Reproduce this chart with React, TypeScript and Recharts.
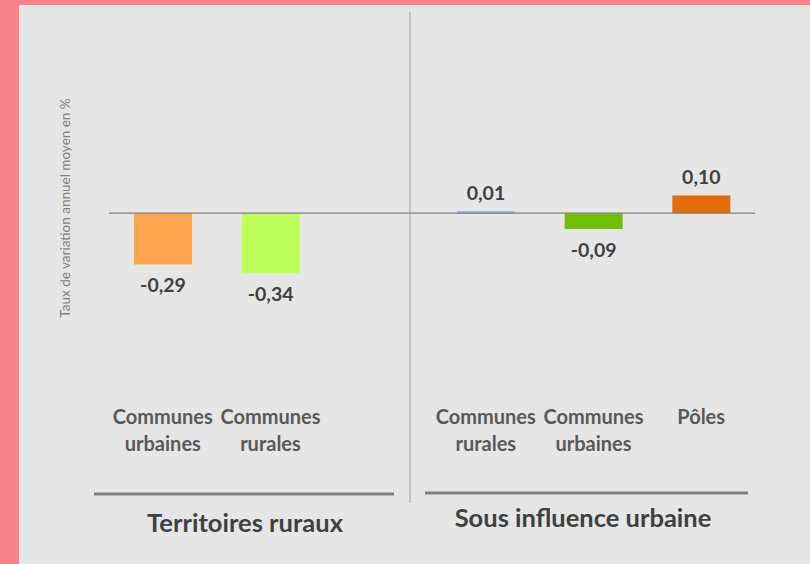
import React from "react";
import { BarChart, Bar, XAxis, YAxis, Cell, LabelList, ReferenceLine, Customized } from "recharts";

const categories = [
  ["Communes", "urbaines"],
  ["Communes", "rurales"],
  ["", ""],
  ["Communes", "rurales"],
  ["Communes", "urbaines"],
  ["Pôles", ""],
];
const values: (number | null)[] = [-0.29, -0.34, null, 0.01, -0.09, 0.1];
const barColors = ["#fda54f", "#bfff5a", "#ffffff", "#8eb4e3", "#70bf00", "#e46c0a"];
const groupLabels = ["Territoires ruraux", "Sous influence urbaine"];
const yAxisLabel = "Taux de variation annuel moyen en %";

const data = categories.map((c, i) => ({ id: i, l1: c[0], l2: c[1], value: values[i] }));

const FONT = "Lato, 'Open Sans', sans-serif";

const fmt = (v: number) => v.toFixed(2).replace(".", ",");

const CatTick = (props: any) => {
  const { x, y, payload } = props;
  const item = data.find((e) => e.id === payload.value);
  if (!item) return null;
  return (
    <g>
      <text x={x} y={y + 26} textAnchor="middle" dominantBaseline="central" fontFamily={FONT} fontWeight={700} fontSize={20} fill="#595959">
        {item.l1}
      </text>
      <text x={x} y={y + 53} textAnchor="middle" dominantBaseline="central" fontFamily={FONT} fontWeight={700} fontSize={20} fill="#595959">
        {item.l2}
      </text>
    </g>
  );
};

const ValueLabel = (props: any) => {
  const { x, y, width, height, value } = props;
  if (value === null || value === undefined) return null;
  const top = Math.min(y, y + height);
  const bottom = Math.max(y, y + height);
  const cy = value < 0 ? bottom + 20 : top - 19;
  return (
    <text x={x + width / 2} y={cy} textAnchor="middle" dominantBaseline="central" fontFamily={FONT} fontWeight={700} fontSize={19.5} fill="#404040">
      {fmt(value)}
    </text>
  );
};

const Decor = () => (
  <g>
    <line x1={410} y1={12} x2={410} y2={503} stroke="#b4b4b4" strokeWidth={1.5} />
    <line x1={94} y1={494} x2={394} y2={494} stroke="#7f7f7f" strokeWidth={3} />
    <line x1={425} y1={493} x2={748} y2={493} stroke="#7f7f7f" strokeWidth={3} />
    <text x={245} y={522} textAnchor="middle" dominantBaseline="central" fontFamily={FONT} fontWeight={700} fontSize={25.5} fill="#404040">
      {groupLabels[0]}
    </text>
    <text x={583} y={517} textAnchor="middle" dominantBaseline="central" fontFamily={FONT} fontWeight={700} fontSize={25.5} fill="#404040">
      {groupLabels[1]}
    </text>
    <text x={65} y={208} transform="rotate(-90 65 208)" textAnchor="middle" dominantBaseline="central" fontFamily={FONT} fontSize={13.5} fill="#7f7f7f">
      {yAxisLabel}
    </text>
  </g>
);

export default function App() {
  return (
    <div style={{ position: "fixed", left: 0, top: 0, width: 810, height: 564, background: "#f7838a", overflow: "hidden" }}>
      <div style={{ position: "absolute", left: 19, top: 5, width: 791, height: 559, background: "#e6e6e6" }} />
      <div style={{ position: "absolute", left: 0, top: 0 }}>
        <BarChart width={810} height={564} data={data} margin={{ top: 107, right: 55, left: 109, bottom: 144 }} barCategoryGap={0}>
          <XAxis dataKey="id" type="category" axisLine={false} tickLine={false} tickSize={0} tickMargin={0} interval={0} tick={<CatTick />} height={30} />
          <YAxis hide domain={[-1, 0.6]} type="number" allowDataOverflow />
          <ReferenceLine y={0} stroke="#7f7f7f" strokeWidth={1.2} />
          <Bar dataKey="value" barSize={58} isAnimationActive={false}>
            {data.map((d, i) => (
              <Cell key={i} fill={barColors[i]} />
            ))}
            <LabelList dataKey="value" content={<ValueLabel />} />
          </Bar>
          <Customized component={Decor} />
        </BarChart>
      </div>
    </div>
  );
}
